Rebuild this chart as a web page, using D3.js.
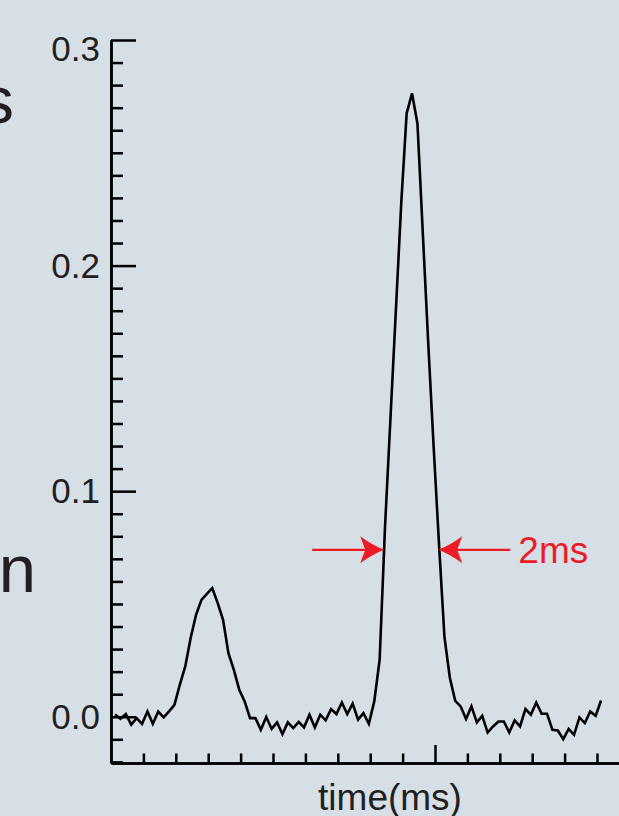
<!DOCTYPE html>
<html>
<head>
<meta charset="utf-8">
<script src="https://cdn.jsdelivr.net/npm/d3@7"></script>
<style>
  html, body { margin: 0; padding: 0; background: #d6dee6; }
  svg { display: block; }
</style>
</head>
<body>
<div id="chart"></div>
<script>
// Sampling grid of the recorded trace (ms)
const sampleStart = 0.15;
const samplePeriod = 0.2;

// Recorded signal, one value per sample
const signal = [
  0.0010, -0.0009, 0.0012, -0.0035, -0.0006, -0.0032, 0.0023, -0.0031, 0.0023, -0.0003,
  0.0024, 0.0053, 0.0142, 0.0223, 0.0349, 0.0452, 0.0518, 0.0545, 0.0570, 0.0505,
  0.0430, 0.0282, 0.0208, 0.0120, 0.0068, -0.0006, -0.0006, -0.0058, -0.0001, -0.0054,
  -0.0025, -0.0077, -0.0025, -0.0050, -0.0023, -0.0047, 0.0009, -0.0047, 0.0009, -0.0016,
  0.0034, 0.0012, 0.0063, 0.0012, 0.0058, -0.0013, 0.0016, -0.0031, 0.0068, 0.0253,
  0.0845, 0.1322, 0.1799, 0.2277, 0.2675, 0.2763, 0.2630, 0.2140, 0.1655, 0.1196,
  0.0762, 0.0354, 0.0173, 0.0070, 0.0046, -0.0010, 0.0046, -0.0025, 0.0004, -0.0070,
  -0.0043, -0.0021, -0.0021, -0.0070, -0.0016, -0.0043, 0.0034, 0.0009, 0.0063, 0.0013,
  0.0013, -0.0058, -0.0061, -0.0099, -0.0054, -0.0080, -0.0003, -0.0028, 0.0023, 0.0004,
  0.0072
];

// Axis ticks
const yMajorTicks = [0, 0.1, 0.2, 0.3];
const yTickLabels = ["0.0", "0.1", "0.2", "0.3"];
const yMinorTicks = [-0.02, -0.01, 0.01, 0.02, 0.03, 0.04, 0.05, 0.06, 0.07, 0.08, 0.09,
  0.11, 0.12, 0.13, 0.14, 0.15, 0.16, 0.17, 0.18, 0.19,
  0.21, 0.22, 0.23, 0.24, 0.25, 0.26, 0.27, 0.28, 0.29];
const xMajorTicks = [12];
const xMinorTicks = [1.2, 2.4, 3.6, 4.8, 6.0, 7.2, 8.4, 9.6, 10.8, 13.2, 14.4, 15.6, 16.8, 18.0];
const xTitle = "time(ms)";

// Peak width marker: level, edges (ms) and label
const widthLevel = 0.074;
const widthEdges = [10.12, 12.12];
const widthLabel = "2ms";
const arrowTail = 2.67;

// Fragments of the neighbouring panel's labels
const sideLabels = [
  { text: "s", baselineValue: 0.2631 },
  { text: "n", baselineValue: 0.0555 }
];

const W = 619, H = 816;
const ink = "#231f20";
const red = "#ed1c24";

const svg = d3.select("#chart").append("svg")
  .attr("width", W).attr("height", H)
  .attr("viewBox", `0 0 ${W} ${H}`);

svg.append("rect").attr("width", W).attr("height", H).attr("fill", "#d6dee6");

const x = d3.scaleLinear().domain([0, (W - 111) / 27]).range([111, W]);
const y = d3.scaleLinear().domain([-0.0205, 0.3]).range([763, 40]);

const font = "'Liberation Sans', Arial, Helvetica, sans-serif";

// Y axis: minor and major ticks pointing into the plot
function styleAxis(g) {
  g.selectAll("path.domain").attr("stroke", "#000").attr("stroke-width", 2.5);
  g.selectAll(".tick line").attr("stroke", "#000").attr("stroke-width", 2.5);
  g.selectAll(".tick text").remove();
}

svg.append("g")
  .attr("transform", `translate(${x(0)},0)`)
  .call(d3.axisRight(y).tickValues(yMinorTicks).tickSize(12).tickSizeOuter(0).tickFormat(""))
  .call(styleAxis);

svg.append("g")
  .attr("transform", `translate(${x(0)},0)`)
  .call(d3.axisRight(y).tickValues(yMajorTicks).tickSize(25).tickSizeOuter(0).tickFormat(""))
  .call(styleAxis);

// Y tick labels, the top one kept inside the frame
svg.append("g").selectAll("text")
  .data(yMajorTicks)
  .join("text")
  .attr("x", 100)
  .attr("y", d => Math.max(y(d), 49))
  .attr("dy", "0.35em")
  .attr("text-anchor", "end")
  .attr("font-family", font)
  .attr("font-size", 35)
  .attr("fill", ink)
  .text((d, i) => yTickLabels[i]);

// X axis: ticks pointing up into the plot
svg.append("g")
  .attr("transform", `translate(0,${y(-0.0205)})`)
  .call(d3.axisTop(x).tickValues(xMinorTicks).tickSize(9.5).tickSizeOuter(0).tickFormat(""))
  .call(styleAxis);

svg.append("g")
  .attr("transform", `translate(0,${y(-0.0205)})`)
  .call(d3.axisTop(x).tickValues(xMajorTicks).tickSize(18).tickSizeOuter(0).tickFormat(""))
  .call(styleAxis);

svg.append("text")
  .attr("x", 390)
  .attr("y", 810)
  .attr("text-anchor", "middle")
  .attr("font-family", font)
  .attr("font-size", 37)
  .attr("fill", ink)
  .text(xTitle);

// Trace
const line = d3.line()
  .x((d, i) => x(sampleStart + i * samplePeriod))
  .y(d => y(d));

svg.append("path")
  .datum(signal)
  .attr("d", line)
  .attr("fill", "none")
  .attr("stroke", "#000")
  .attr("stroke-width", 2.6)
  .attr("stroke-linejoin", "miter");

// Width marker arrows
const head = "M0,0 Q-11,-4 -24,-13.5 L-19,0 L-24,13.5 Q-11,4 0,0 Z";
const arrows = [
  { tip: widthEdges[0], tail: widthEdges[0] - arrowTail, dir: 1 },
  { tip: widthEdges[1], tail: widthEdges[1] + arrowTail, dir: -1 }
];
const ag = svg.append("g");
arrows.forEach(a => {
  ag.append("line")
    .attr("x1", x(a.tail)).attr("x2", x(a.tip) - a.dir * 18)
    .attr("y1", y(widthLevel)).attr("y2", y(widthLevel))
    .attr("stroke", red).attr("stroke-width", 2.2);
  ag.append("path")
    .attr("d", head)
    .attr("transform", `translate(${x(a.tip)},${y(widthLevel)}) scale(${a.dir},1)`)
    .attr("fill", red);
});

svg.append("text")
  .attr("x", x(widthEdges[1] + arrowTail) + 8)
  .attr("y", y(widthLevel))
  .attr("dy", "0.36em")
  .attr("font-family", font)
  .attr("font-size", 37)
  .attr("fill", red)
  .text(widthLabel);

// Neighbouring panel label fragments at the left edge
svg.append("g").selectAll("text")
  .data(sideLabels)
  .join("text")
  .attr("x", d => d.text === "s" ? 14 : 36)
  .attr("y", d => y(d.baselineValue))
  .attr("text-anchor", "end")
  .attr("font-family", font)
  .attr("font-size", 67)
  .attr("fill", ink)
  .text(d => d.text);
</script>
</body>
</html>
